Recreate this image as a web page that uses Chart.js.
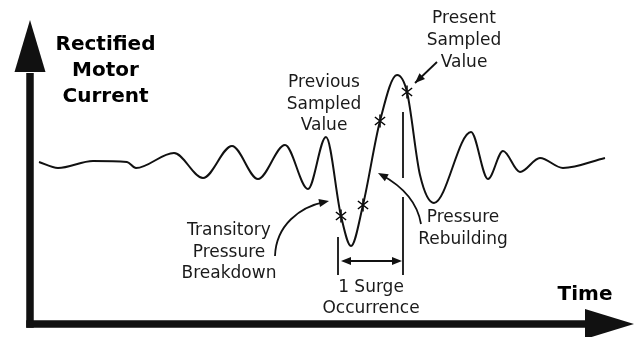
<!DOCTYPE html>
<html>
<head>
<meta charset="utf-8">
<script src="https://cdn.jsdelivr.net/npm/chart.js@4"></script>
<style>
  html, body { margin: 0; padding: 0; background: #ffffff; }
  #wrap { width: 637px; height: 337px; }
</style>
</head>
<body>
<div id="wrap"><canvas id="surge" width="637" height="337"></canvas></div>
<script>
// Rectified motor current trace (time from the origin, current above the time axis)
const traceTime    = [9, 28, 63, 97, 106, 144, 173, 202, 228, 255, 278, 296, 321, 367, 390, 404, 441, 458, 473, 490, 510, 533, 575];
const traceCurrent = [162, 156, 163, 162, 156, 171, 146, 178, 145, 179, 135, 187, 78, 249, 149, 121, 192, 145, 173, 152, 166, 156, 166];

// Sampled values of the current during the surge
const sampleTime    = [311, 333, 350, 377];
const sampleCurrent = [108, 119, 203, 232];

// Start and end of one surge occurrence (time units)
const surgeBounds = [308, 373];

// Text labels
const axisLabelY = ['Rectified', 'Motor', 'Current'];
const axisLabelX = ['Time'];
const notePresent = ['Present', 'Sampled', 'Value'];
const notePrevious = ['Previous', 'Sampled', 'Value'];
const noteBreakdown = ['Transitory', 'Pressure', 'Breakdown'];
const noteRebuild = ['Pressure', 'Rebuilding'];
const noteSurge = ['1 Surge', 'Occurrence'];

// Merge samples into the trace so the curve passes through every sample
const tracePoints = traceTime.map((t, i) => ({ x: t, y: traceCurrent[i] }))
  .concat(sampleTime.map((t, i) => ({ x: t, y: sampleCurrent[i] })))
  .sort((a, b) => a.x - b.x);
const samplePoints = sampleTime.map((t, i) => ({ x: t, y: sampleCurrent[i] }));

// Asterisk marker used for sampled values
function asterisk(size, lw) {
  const c = document.createElement('canvas');
  c.width = size; c.height = size;
  const g = c.getContext('2d');
  const r = size / 2 - 0.5, m = size / 2;
  g.strokeStyle = '#000';
  g.lineWidth = lw;
  g.lineCap = 'butt';
  [90, 38, 142].forEach(a => {
    const rad = a * Math.PI / 180;
    g.beginPath();
    g.moveTo(m - r * Math.cos(rad), m - r * Math.sin(rad));
    g.lineTo(m + r * Math.cos(rad), m + r * Math.sin(rad));
    g.stroke();
  });
  return c;
}

// Layout of the annotations, in the chart's own units (time, current)
const layoutNotes = {
  axisY: { t: 75.5, c: [274, 248, 222] },
  axisX: { t: 555, c: [24] },
  present: { t: 434, c: [301, 279, 257] },
  previous: { t: 294, c: [237, 215, 194] },
  breakdown: { t: 199, c: [89, 67.5, 46] },
  rebuild: { t: 433, c: [102, 80] },
  surge: { t: 341, c: [32, 11] },
  presentArrow: [[407, 262], [385, 241]],
  rebuildArrow: [[391, 100], [387, 124], [370, 139], [348, 151]],
  breakdownArrow: [[245, 68], [246, 99], [270, 117], [299, 123]],
  surgeLeft: [87, 49],
  surgeRight: [[212, 146], [127, 49]],
  surgeSpan: 63,
  yAxisTip: 304, yAxisHead: 252,
  xAxisTip: 604, xAxisHead: 555
};

const annotate = {
  id: 'annotate',
  afterDatasetsDraw(chart) {
    const ctx = chart.ctx;
    const xs = chart.scales.x, ys = chart.scales.y;
    const X = t => xs.getPixelForValue(t);
    const Y = c => ys.getPixelForValue(c);
    const L = layoutNotes;
    const ink = '#111';

    function head(tipX, tipY, fromX, fromY, len, half) {
      const a = Math.atan2(tipY - fromY, tipX - fromX);
      ctx.beginPath();
      ctx.moveTo(tipX, tipY);
      ctx.lineTo(tipX - len * Math.cos(a) + half * Math.sin(a), tipY - len * Math.sin(a) - half * Math.cos(a));
      ctx.lineTo(tipX - len * Math.cos(a) - half * Math.sin(a), tipY - len * Math.sin(a) + half * Math.cos(a));
      ctx.closePath();
      ctx.fill();
    }

    ctx.save();
    ctx.fillStyle = ink;
    ctx.strokeStyle = ink;

    // Axes with arrowheads
    const ox = X(0), oy = Y(0);
    ctx.lineWidth = 7.5;
    ctx.lineCap = 'butt';
    ctx.beginPath();
    ctx.moveTo(ox, oy + 3.75);
    ctx.lineTo(ox, Y(L.yAxisHead) + 1);
    ctx.stroke();
    ctx.beginPath();
    ctx.moveTo(ox - 3.75, oy);
    ctx.lineTo(X(L.xAxisHead) + 1, oy);
    ctx.stroke();
    ctx.beginPath();
    ctx.moveTo(ox, Y(L.yAxisTip));
    ctx.lineTo(ox - 15.5, Y(L.yAxisHead));
    ctx.lineTo(ox + 15.5, Y(L.yAxisHead));
    ctx.closePath();
    ctx.fill();
    ctx.beginPath();
    ctx.moveTo(X(L.xAxisTip), oy);
    ctx.lineTo(X(L.xAxisHead), oy - 15);
    ctx.lineTo(X(L.xAxisHead), oy + 15);
    ctx.closePath();
    ctx.fill();

    // Text
    function lines(words, pos, font, color) {
      ctx.font = font;
      ctx.fillStyle = color;
      ctx.textAlign = 'center';
      ctx.textBaseline = 'alphabetic';
      words.forEach((w, i) => ctx.fillText(w, X(pos.t), Y(pos.c[i])));
    }
    const bold = 'bold 20px "DejaVu Sans", Verdana, sans-serif';
    const plain = '17px "DejaVu Sans", Verdana, sans-serif';
    lines(axisLabelY, L.axisY, bold, '#000');
    lines(axisLabelX, L.axisX, bold, '#000');
    lines(notePresent, L.present, plain, '#1a1a1a');
    lines(notePrevious, L.previous, plain, '#1a1a1a');
    lines(noteBreakdown, L.breakdown, plain, '#1a1a1a');
    lines(noteRebuild, L.rebuild, plain, '#1a1a1a');
    lines(noteSurge, L.surge, plain, '#1a1a1a');

    ctx.fillStyle = ink;
    ctx.lineWidth = 1.8;

    // Straight arrow to the present sampled value
    const pa = L.presentArrow;
    ctx.beginPath();
    ctx.moveTo(X(pa[0][0]), Y(pa[0][1]));
    ctx.lineTo(X(pa[1][0]), Y(pa[1][1]));
    ctx.stroke();
    head(X(pa[1][0]), Y(pa[1][1]), X(pa[0][0]), Y(pa[0][1]), 10, 4);

    // Curved arrows
    [L.rebuildArrow, L.breakdownArrow].forEach(b => {
      const p = b.map(q => [X(q[0]), Y(q[1])]);
      ctx.beginPath();
      ctx.moveTo(p[0][0], p[0][1]);
      ctx.bezierCurveTo(p[1][0], p[1][1], p[2][0], p[2][1], p[3][0] - (p[3][0] - p[2][0]) * 0.15, p[3][1] - (p[3][1] - p[2][1]) * 0.15);
      ctx.stroke();
      head(p[3][0], p[3][1], p[2][0], p[2][1], 10, 4);
    });

    // Surge occurrence markers
    ctx.lineWidth = 1.8;
    ctx.beginPath();
    ctx.moveTo(X(surgeBounds[0]), Y(L.surgeLeft[0]));
    ctx.lineTo(X(surgeBounds[0]), Y(L.surgeLeft[1]));
    L.surgeRight.forEach(s => {
      ctx.moveTo(X(surgeBounds[1]), Y(s[0]));
      ctx.lineTo(X(surgeBounds[1]), Y(s[1]));
    });
    const sy = Y(L.surgeSpan);
    const sx0 = X(surgeBounds[0]) + 3, sx1 = X(surgeBounds[1]) - 1;
    ctx.moveTo(sx0 + 8, sy);
    ctx.lineTo(sx1 - 8, sy);
    ctx.stroke();
    head(sx0, sy, sx1, sy, 10, 4);
    head(sx1, sy, sx0, sy, 10, 4);

    ctx.restore();
  }
};

new Chart(document.getElementById('surge'), {
  type: 'scatter',
  data: {
    datasets: [
      {
        label: 'Rectified motor current',
        data: tracePoints,
        showLine: true,
        borderColor: '#111',
        borderWidth: 2,
        pointRadius: 0,
        cubicInterpolationMode: 'monotone',
        fill: false
      },
      {
        label: 'Sampled value',
        data: samplePoints,
        showLine: false,
        pointStyle: asterisk(14, 1.5),
        pointRadius: 7
      }
    ]
  },
  options: {
    responsive: false,
    animation: false,
    devicePixelRatio: 1,
    layout: { padding: 0, autoPadding: false },
    plugins: { legend: { display: false }, tooltip: { enabled: false } },
    scales: {
      x: { type: 'linear', min: -30, max: 607, display: false },
      y: { type: 'linear', min: -13, max: 324, display: false }
    }
  },
  plugins: [annotate]
});
</script>
</body>
</html>
